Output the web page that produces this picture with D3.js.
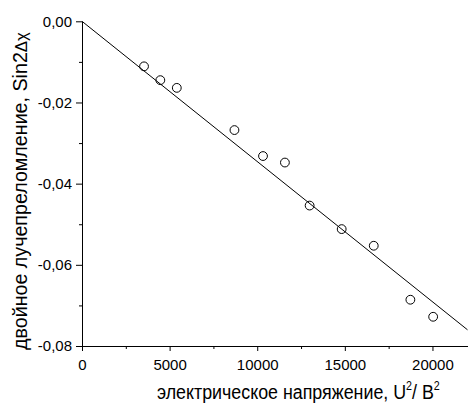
<!DOCTYPE html>
<html>
<head>
<meta charset="utf-8">
<script src="https://cdn.jsdelivr.net/npm/d3@7"></script>
<style>
  html, body { margin: 0; padding: 0; background: #fff; }
  svg { display: block; }
  text { font-family: "Liberation Sans", Arial, sans-serif; fill: #000; }
</style>
</head>
<body>
<svg id="chart" width="468" height="406"></svg>
<script>
// Measured points: squared voltage (U²/B²) vs birefringence Sin2Δχ
const voltageSq = [3540, 4470, 5410, 8700, 10330, 11580, 12990, 14820, 16650, 18740, 20040];
const birefringence = [-0.0111, -0.0145, -0.0164, -0.0268, -0.0332, -0.0348, -0.0454, -0.0512, -0.0553, -0.0686, -0.0728];

// Linear fit through the origin
const fitIntercept = 0;
const fitSlope = -3.455e-6;
const fitRange = [0, 22000];

const xTicks = [0, 5000, 10000, 15000, 20000];
const xMinorTicks = [2500, 7500, 12500, 17500];
const yTicks = [0, -0.02, -0.04, -0.06, -0.08];
const yMinorTicks = [-0.01, -0.03, -0.05, -0.07];

const svg = d3.select("#chart");
const plot = { left: 82, right: 467.5, top: 21.3, bottom: 346 };

const x = d3.scaleLinear().domain([0, 22000]).range([plot.left, plot.right]);
const y = d3.scaleLinear().domain([-0.08, 0]).range([plot.bottom, plot.top]);

const fmtY = v => d3.format(".2f")(v).replace(".", ",").replace("−", "-");

// Axes: major ticks with labels, minor ticks shorter
svg.append("g").attr("transform", `translate(0,${plot.bottom})`)
  .call(d3.axisBottom(x).tickValues(xTicks).tickFormat(d3.format("d")).tickSize(5).tickSizeOuter(0).tickPadding(8));
svg.append("g").attr("transform", `translate(0,${plot.bottom})`)
  .call(d3.axisBottom(x).tickValues(xMinorTicks).tickFormat("").tickSize(3).tickSizeOuter(0))
  .select(".domain").remove();

svg.append("g").attr("transform", `translate(${plot.left},0)`)
  .call(d3.axisLeft(y).tickValues(yTicks).tickFormat(fmtY).tickSize(6).tickSizeOuter(0).tickPadding(4));
svg.append("g").attr("transform", `translate(${plot.left},0)`)
  .call(d3.axisLeft(y).tickValues(yMinorTicks).tickFormat("").tickSize(3).tickSizeOuter(0))
  .select(".domain").remove();

svg.selectAll("g").attr("font-family", null).attr("font-size", null);
svg.selectAll(".tick text").style("font-size", "15px");
svg.selectAll(".domain, .tick line").attr("stroke", "#000").attr("stroke-width", 1);

// Fit line
const line = d3.line().x(d => x(d)).y(d => y(fitIntercept + fitSlope * d));
svg.append("path").datum(fitRange).attr("d", line)
  .attr("fill", "none").attr("stroke", "#000").attr("stroke-width", 1);

// Data points as open circles
svg.append("g").selectAll("circle").data(voltageSq).join("circle")
  .attr("cx", d => x(d)).attr("cy", (d, i) => y(birefringence[i]))
  .attr("r", 4.4).attr("fill", "none").attr("stroke", "#000").attr("stroke-width", 1);

// Axis titles: tall, slightly condensed lettering fitted to a given run length
function fitText(sel, transform, width) {
  const len = sel.node().getComputedTextLength();
  sel.attr("transform", `${transform} scale(${width / len},1)`);
}

const xt = svg.append("text").style("font-size", "20px");
xt.append("tspan").text("электрическое напряжение, U");
xt.append("tspan").attr("dy", -9).style("font-size", "12px").text("2");
xt.append("tspan").attr("dy", 9).text("/ B");
xt.append("tspan").attr("dy", -9).style("font-size", "12px").text("2");
fitText(xt, "translate(157,399)", 283);

const yt = svg.append("text").style("font-size", "20px");
yt.append("tspan").text("двойное лучепреломление, Sin2");
yt.append("tspan").style("font-size", "17px").text("Δχ");
fitText(yt, "translate(26.5,350) rotate(-90)", 318);
</script>
</body>
</html>
